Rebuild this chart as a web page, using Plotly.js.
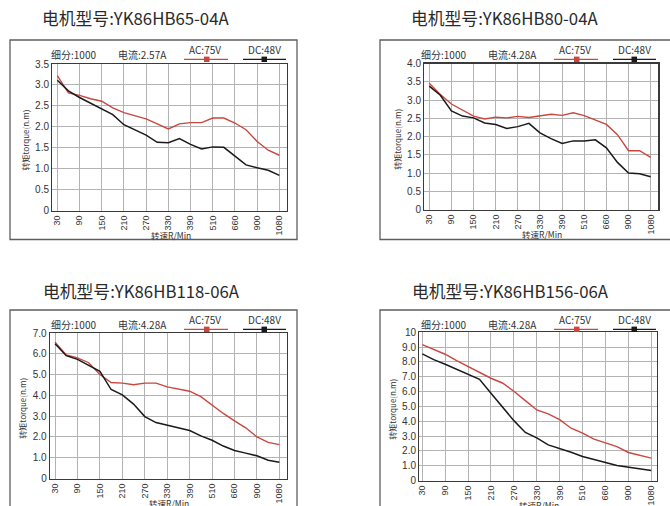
<!DOCTYPE html>
<html><head><meta charset="utf-8">
<script src="https://cdn.plot.ly/plotly-3.0.1.min.js"></script>
<style>html,body{margin:0;padding:0;background:#fff;}#chart{width:670px;height:506px;}</style>
</head><body><div id="chart"></div>
<script>
// ---- data ----
const speeds = ['30','60','90','120','150','180','210','240','270','300','330','360','390','450','510','600','660','780','900','990','1080'];
const speedTicks = ['30','90','150','210','270','330','390','510','660','900','1080'];

const titles = ['电机型号:YK86HB65-04A','电机型号:YK86HB80-04A','电机型号:YK86HB118-06A','电机型号:YK86HB156-06A'];
const currents = ['电流:2.57A','电流:4.28A','电流:4.28A','电流:4.28A'];
const microstep = '细分:1000';
const legendAC = 'AC:75V';
const legendDC = 'DC:48V';

const ac65 = [3.22,2.81,2.75,2.67,2.61,2.45,2.34,2.27,2.19,2.07,1.95,2.07,2.10,2.10,2.21,2.21,2.09,1.93,1.65,1.44,1.32];
const dc65 = [3.11,2.86,2.70,2.57,2.43,2.29,2.05,1.93,1.80,1.63,1.62,1.72,1.58,1.47,1.52,1.51,1.29,1.09,1.02,0.96,0.84];
const ac80 = [3.46,3.15,2.89,2.72,2.56,2.48,2.53,2.51,2.55,2.52,2.56,2.61,2.58,2.65,2.57,2.46,2.33,2.05,1.61,1.61,1.43];
const dc80 = [3.38,3.13,2.70,2.56,2.51,2.37,2.33,2.22,2.27,2.36,2.10,1.94,1.81,1.88,1.88,1.91,1.69,1.29,1.00,0.98,0.90];
const ac118 = [6.56,5.94,5.80,5.57,5.00,4.62,4.59,4.51,4.59,4.59,4.41,4.31,4.20,3.94,3.53,3.13,2.77,2.44,2.00,1.74,1.63];
const dc118 = [6.48,5.91,5.73,5.45,5.16,4.28,4.02,3.58,2.98,2.69,2.57,2.46,2.31,2.05,1.84,1.56,1.35,1.22,1.09,0.88,0.78];
const ac156 = [9.17,8.85,8.52,8.09,7.69,7.30,6.90,6.58,6.02,5.39,4.76,4.49,4.11,3.53,3.19,2.79,2.52,2.29,1.89,1.71,1.51];
const dc156 = [8.54,8.16,7.84,7.51,7.17,6.83,5.89,4.94,4.04,3.24,2.88,2.40,2.16,1.91,1.62,1.39,1.21,1.01,0.90,0.76,0.67];

const yTicks65 = [0,0.5,1,1.5,2,2.5,3,3.5];
const yText65 = ['0','0.5','1.0','1.5','2.0','2.5','3.0','3.5'];
const yTicks80 = [0,0.5,1,1.5,2,2.5,3,3.5,4];
const yText80 = ['0','0.5','1.0','1.5','2.0','2.5','3.0','3.5','4.0'];
const yTicks118 = [0,1,2,3,4,5,6,7];
const yText118 = ['0','1.0','2.0','3.0','4.0','5.0','6.0','7.0'];
const yTicks156 = [0,1,2,3,4,5,6,7,8,9,10];
const yText156 = ['0','1.0','2.0','3.0','4.0','5.0','6.0','7.0','8.0','9.0','10'];

const yAxisTitle = '转矩torque(n.m)';
const xAxisTitle = '转速R/Min';

// ---- layout helpers (pixels -> paper) ----
const W = 670, H = 506;
const px = x => x / W;
const py = y => 1 - y / H;

const RED = '#c9473f', BLACK = '#1a1a1a';
const CJK = '"Noto Sans CJK SC", "Liberation Sans", sans-serif';
const NUM = '"Liberation Sans", Arial, sans-serif';

// per-panel geometry: frame origin, plot box
const panels = [
  {ac: ac65, dc: dc65, yt: yTicks65, ytx: yText65, ymax: 3.5, ox: 0, oy: 0, title: titles[0], cur: currents[0],
   plot: [52.3, 64, 287, 210.5], xr: [-0.45, 20.69], tx: 135, ty: 18},
  {ac: ac80, dc: dc80, yt: yTicks80, ytx: yText80, ymax: 4.0, ox: 370, oy: 0, title: titles[1], cur: currents[1],
   plot: [424.3, 63.5, 658.3, 209.5], xr: [-0.45, 20.69], tx: 505, ty: 18},
  {ac: ac118, dc: dc118, yt: yTicks118, ytx: yText118, ymax: 7, ox: 0, oy: 270, title: titles[2], cur: currents[2],
   plot: [50, 333, 287, 478.5], xr: [-0.45, 20.68], tx: 141, ty: 291},
  {ac: ac156, dc: dc156, yt: yTicks156, ytx: yText156, ymax: 10, ox: 370, oy: 270, title: titles[3], cur: currents[3],
   plot: [419.3, 332.3, 657, 480.5], xr: [-0.26, 20.5], tx: 510, ty: 290.5},
];

const data = [];
const layout = {
  width: W, height: H, margin: {l: 0, r: 0, t: 0, b: 0},
  paper_bgcolor: '#fff', plot_bgcolor: '#fff', showlegend: false,
  annotations: [], shapes: []
};

panels.forEach((p, i) => {
  const n = i + 1;
  const xa = 'xaxis' + (n === 1 ? '' : n), ya = 'yaxis' + (n === 1 ? '' : n);
  const xr = 'x' + (n === 1 ? '' : n), yr = 'y' + (n === 1 ? '' : n);
  const [x0, y0, x1, y1] = p.plot;

  data.push({x: speeds, y: p.ac, type: 'scatter', mode: 'lines', xaxis: xr, yaxis: yr,
             line: {color: RED, width: 1.4}, hoverinfo: 'skip'});
  data.push({x: speeds, y: p.dc, type: 'scatter', mode: 'lines', xaxis: xr, yaxis: yr,
             line: {color: BLACK, width: 1.5}, hoverinfo: 'skip'});

  layout[xa] = {
    domain: [px(x0), px(x1)], anchor: yr, type: 'category', categoryorder: 'array', categoryarray: speeds,
    range: p.xr, tickmode: 'array', tickvals: speedTicks, ticktext: speedTicks, tickangle: -90,
    showgrid: true, gridcolor: '#b3b3b3', gridwidth: 1, showline: true, linecolor: '#3a3a3a', linewidth: 1.3,
    mirror: true, ticks: '', ticklen: 0, tickfont: {family: NUM, size: 9, color: '#333'}, zeroline: false, fixedrange: true
  };
  layout[ya] = {
    domain: [py(y1), py(y0)], anchor: xr, range: [0, p.ymax], tickmode: 'array', tickvals: p.yt, ticktext: p.ytx,
    showgrid: true, gridcolor: '#b3b3b3', gridwidth: 1, showline: true, linecolor: '#3a3a3a', linewidth: 1.3,
    mirror: true, ticks: '', tickfont: {family: NUM, size: 10, color: '#333'}, zeroline: false, fixedrange: true
  };

  const ox = p.ox, oy = p.oy;
  // outer frame
  layout.shapes.push({type: 'rect', xref: 'paper', yref: 'paper',
    x0: px(10 + ox), x1: px(ox === 0 ? 297 : 700), y0: py(oy === 0 ? 239.5 : 530), y1: py(40 + oy),
    line: {color: '#5e5e5e', width: 1.3}, fillcolor: 'rgba(0,0,0,0)', layer: 'below'});

  // title
  layout.annotations.push({xref: 'paper', yref: 'paper', x: px(p.tx), y: py(p.ty), text: p.title, showarrow: false,
    xanchor: 'center', yanchor: 'middle', font: {family: CJK, size: 16.8, color: '#2a2a2a'}});
  // header texts
  layout.annotations.push({xref: 'paper', yref: 'paper', x: px(73.5 + ox), y: py(54 + oy), text: microstep, showarrow: false,
    xanchor: 'center', yanchor: 'middle', font: {family: CJK, size: 10, color: '#333'}});
  layout.annotations.push({xref: 'paper', yref: 'paper', x: px(142 + ox), y: py(54 + oy), text: p.cur, showarrow: false,
    xanchor: 'center', yanchor: 'middle', font: {family: CJK, size: 10, color: '#333'}});
  layout.annotations.push({xref: 'paper', yref: 'paper', x: px(205 + ox), y: py(49.5 + oy), text: legendAC, showarrow: false,
    xanchor: 'center', yanchor: 'middle', font: {family: CJK, size: 10, color: '#333'}});
  layout.annotations.push({xref: 'paper', yref: 'paper', x: px(264.5 + ox), y: py(49.5 + oy), text: legendDC, showarrow: false,
    xanchor: 'center', yanchor: 'middle', font: {family: CJK, size: 10, color: '#333'}});
  // legend line samples
  layout.shapes.push({type: 'line', xref: 'paper', yref: 'paper', x0: px(184 + ox), x1: px(228 + ox),
    y0: py(59.3 + oy), y1: py(59.3 + oy), line: {color: RED, width: 1.2}});
  layout.shapes.push({type: 'rect', xref: 'paper', yref: 'paper', x0: px(204 + ox), x1: px(209.5 + ox),
    y0: py(62 + oy), y1: py(56.6 + oy), line: {width: 0}, fillcolor: RED});
  layout.shapes.push({type: 'line', xref: 'paper', yref: 'paper', x0: px(243 + ox), x1: px(286 + ox),
    y0: py(59.3 + oy), y1: py(59.3 + oy), line: {color: BLACK, width: 1.2}});
  layout.shapes.push({type: 'rect', xref: 'paper', yref: 'paper', x0: px(261.5 + ox), x1: px(267 + ox),
    y0: py(62 + oy), y1: py(56.6 + oy), line: {width: 0}, fillcolor: BLACK});

  // axis titles
  layout.annotations.push({xref: 'paper', yref: 'paper', x: px(x0 - 27), y: py((y0 + y1) / 2 + 3), text: yAxisTitle,
    showarrow: false, textangle: -90, xanchor: 'center', yanchor: 'middle', font: {family: CJK, size: 8, color: '#333'}});
  layout.annotations.push({xref: 'paper', yref: 'paper', x: px((x0 + x1) / 2 + 1), y: py(y1 + 24), text: xAxisTitle,
    showarrow: false, xanchor: 'center', yanchor: 'middle', font: {family: CJK, size: 8.5, color: '#333'}});
});

Plotly.newPlot('chart', data, layout, {staticPlot: true, displayModeBar: false});
</script>
</body></html>
